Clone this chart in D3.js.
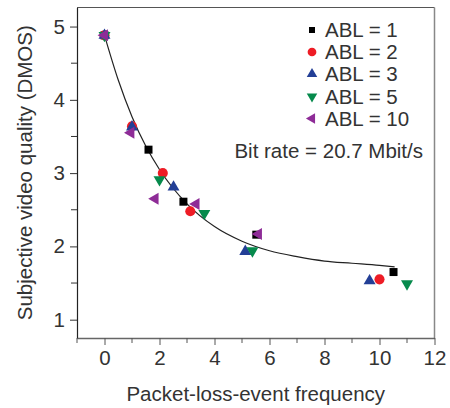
<!DOCTYPE html>
<html>
<head>
<meta charset="utf-8">
<script src="https://cdn.jsdelivr.net/npm/d3@7"></script>
<style>
  body { margin: 0; background: #fff; }
  text { font-family: "Liberation Sans", Arial, sans-serif; fill: #333; }
</style>
</head>
<body>
<svg width="450" height="408"></svg>
<script>
// series (x = packet-loss-event frequency, y = DMOS)
var abl1X = [0, 1.6, 2.87, 5.52, 10.51];
var abl1Y = [4.88, 3.32, 2.61, 2.16, 1.65];
var abl2X = [0, 1.0, 2.12, 3.12, 10.0];
var abl2Y = [4.88, 3.64, 3.0, 2.48, 1.55];
var abl3X = [0, 1.0, 2.51, 5.12, 9.64];
var abl3Y = [4.88, 3.63, 2.81, 1.93, 1.53];
var abl5X = [0, 2.0, 3.63, 5.38, 11.0];
var abl5Y = [4.88, 2.91, 2.45, 1.94, 1.49];
var abl10X = [0, 0.96, 1.84, 3.33, 5.6];
var abl10Y = [4.88, 3.55, 2.65, 2.58, 2.17];

// fitted curve, estimated points
var fitX = [0, 0.5, 1, 1.5, 2, 3, 4, 5, 6, 7, 8, 9, 10, 10.55];
var fitY = [4.88, 4.27, 3.77, 3.37, 3.05, 2.58, 2.27, 2.07, 1.94, 1.86, 1.8, 1.77, 1.74, 1.72];

var legendLabels = ["ABL = 1", "ABL = 2", "ABL = 3", "ABL = 5", "ABL = 10"];
var xTicks = [0, 2, 4, 6, 8, 10, 12];
var yTicks = [1, 2, 3, 4, 5];

const svg = d3.select("svg");
const fs = "20.5px";

// plot area
const plotL = 77, plotR = 434.5, plotT = 7.5, plotB = 338;
const x = d3.scaleLinear().domain([-1, 12]).range([plotL, plotR]);
const y = d3.scaleLinear().domain([0.75, 5.26]).range([plotB, plotT]);

// series styles
var series = [
  { xs: abl1X, ys: abl1Y, sym: d3.symbolSquare, size: 64, legSize: 36, color: "#000000", rot: 0 },
  { xs: abl2X, ys: abl2Y, sym: d3.symbolCircle, size: 80, legSize: 60, color: "#ee1c25", rot: 0 },
  { xs: abl3X, ys: abl3Y, sym: d3.symbolTriangle, size: 62, legSize: 48, color: "#233f96", rot: 0 },
  { xs: abl5X, ys: abl5Y, sym: d3.symbolTriangle, size: 62, legSize: 48, color: "#068a4c", rot: 180 },
  { xs: abl10X, ys: abl10Y, sym: d3.symbolTriangle, size: 62, legSize: 48, color: "#8e2c97", rot: -90 },
];

// frame
svg.append("line").attr("x1", plotL).attr("x2", plotR).attr("y1", plotT).attr("y2", plotT)
  .attr("stroke", "#555").attr("stroke-width", 1.2);
svg.append("line").attr("x1", plotR).attr("x2", plotR).attr("y1", plotT).attr("y2", plotB)
  .attr("stroke", "#888").attr("stroke-width", 1.5);

// x axis
const xAxis = d3.axisBottom(x).tickValues(xTicks).tickFormat(d3.format("d"))
  .tickSize(7).tickPadding(5).tickSizeOuter(0);
const gx = svg.append("g").attr("transform", `translate(0,${plotB})`).call(xAxis);
gx.append("g").selectAll("line")
  .data([-1, 1, 3, 5, 7, 9, 11])
  .enter().append("line")
  .attr("x1", (d) => x(d)).attr("x2", (d) => x(d))
  .attr("y1", 0).attr("y2", 5)
  .attr("stroke", "#555");

// y axis
const yAxis = d3.axisLeft(y).tickValues(yTicks).tickFormat(d3.format("d"))
  .tickSize(7).tickPadding(5).tickSizeOuter(0);
const gy = svg.append("g").attr("transform", `translate(${plotL},0)`).call(yAxis);
gy.append("g").selectAll("line")
  .data([1.5, 2.5, 3.5, 4.5])
  .enter().append("line")
  .attr("x1", 0).attr("x2", -6)
  .attr("y1", (d) => y(d)).attr("y2", (d) => y(d))
  .attr("stroke", "#333");

gx.select(".domain").attr("stroke", "#666").attr("stroke-width", 1.3);
gx.selectAll(".tick line").attr("stroke", "#555");
gy.select(".domain").attr("stroke", "#222").attr("stroke-width", 1.2);
gy.selectAll(".tick line").attr("stroke", "#333");
svg.selectAll(".tick text")
  .style("font-size", fs)
  .style("font-family", "Liberation Sans, Arial, sans-serif")
  .attr("fill", "#333");

// axis titles
svg.append("text")
  .attr("x", (plotL + plotR) / 2)
  .attr("y", 401)
  .attr("text-anchor", "middle")
  .style("font-size", fs)
  .text("Packet-loss-event frequency");
svg.append("text")
  .attr("transform", `translate(32,${(plotT + plotB) / 2}) rotate(-90)`)
  .attr("text-anchor", "middle")
  .style("font-size", fs)
  .text("Subjective video quality (DMOS)");

// fitted curve
const line = d3.line().x((d) => x(d[0])).y((d) => y(d[1])).curve(d3.curveMonotoneX);
svg.append("path")
  .datum(fitX.map((d, i) => [d, fitY[i]]))
  .attr("d", line)
  .attr("fill", "none")
  .attr("stroke", "#222")
  .attr("stroke-width", 1.2);

// markers
series.forEach((s) => {
  svg.append("g").selectAll("path")
    .data(s.xs.map((d, i) => [d, s.ys[i]]))
    .enter().append("path")
    .attr("d", d3.symbol().type(s.sym).size(s.size))
    .attr("transform", (d) => `translate(${x(d[0])},${y(d[1])}) rotate(${s.rot})`)
    .attr("fill", s.color);
});

// legend
const leg = svg.append("g");
const legY = [30, 52, 74, 96.5, 118.5];
series.forEach((s, i) => {
  leg.append("path")
    .attr("d", d3.symbol().type(s.sym).size(s.legSize))
    .attr("transform", `translate(312,${legY[i]}) rotate(${s.rot})`)
    .attr("fill", s.color);
  leg.append("text")
    .attr("x", 325)
    .attr("y", legY[i] + 7)
    .style("font-size", fs)
    .text(legendLabels[i]);
});
svg.append("text")
  .attr("x", 423)
  .attr("y", 158)
  .attr("text-anchor", "end")
  .style("font-size", fs)
  .text("Bit rate = 20.7 Mbit/s");
</script>
</body>
</html>
